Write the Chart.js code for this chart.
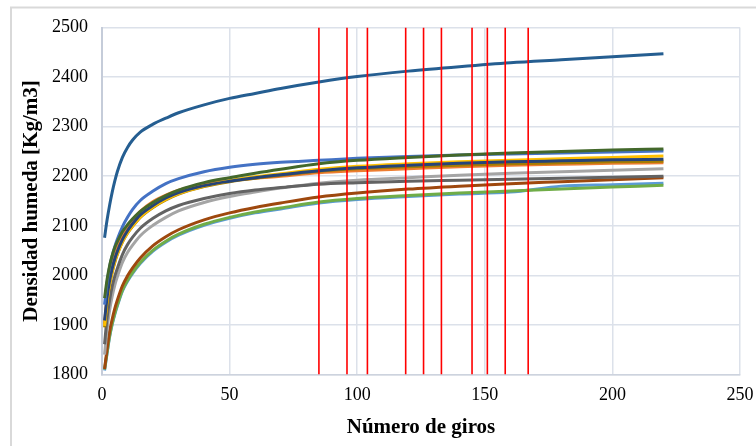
<!DOCTYPE html>
<html>
<head>
<meta charset="utf-8">
<script src="https://cdn.jsdelivr.net/npm/chart.js@4.4.1/dist/chart.umd.min.js"></script>
<style>
  html, body { margin: 0; padding: 0; background: #ffffff; }
  #caja { width: 756px; height: 446px; position: relative; }
</style>
</head>
<body>
<div id="caja"><canvas id="grafico"></canvas></div>
<script>
// Número de giros del compactador (eje x común a todas las curvas)
const giros = [1, 2, 3, 4, 5, 6, 8, 10, 12, 15, 20, 25, 30, 40, 50, 60, 70, 85, 100, 120, 140, 160, 180, 200, 220];

// Densidad húmeda [Kg/m3] de cada probeta
const azulOscuro  = [2076, 2112, 2142, 2168, 2190, 2209, 2238, 2258, 2273, 2289, 2305, 2317, 2328, 2344, 2357, 2367, 2377, 2390, 2401, 2412, 2421, 2429, 2435, 2441, 2447];
const verdeOscuro = [1954, 1992, 2020, 2040, 2056, 2068, 2088, 2102, 2114, 2129, 2147, 2161, 2172, 2187, 2197, 2206, 2214, 2225, 2232, 2238, 2243, 2247, 2250, 2253, 2255];
const azulMedio   = [1941, 1985, 2018, 2040, 2058, 2073, 2098, 2117, 2133, 2151, 2170, 2185, 2195, 2209, 2218, 2224, 2228, 2232, 2236, 2240, 2243, 2245, 2247, 2249, 2251];
const amarillo    = [1898, 1948, 1983, 2008, 2028, 2043, 2068, 2086, 2100, 2118, 2138, 2153, 2165, 2180, 2191, 2199, 2205, 2214, 2220, 2225, 2229, 2232, 2235, 2238, 2241];
const azulMarino  = [1909, 1956, 1990, 2014, 2033, 2048, 2072, 2090, 2104, 2122, 2141, 2156, 2167, 2181, 2190, 2197, 2203, 2211, 2217, 2222, 2226, 2229, 2231, 2233, 2234];
const mostaza     = [1895, 1946, 1981, 2006, 2026, 2042, 2067, 2085, 2099, 2117, 2137, 2152, 2164, 2179, 2189, 2196, 2202, 2210, 2215, 2219, 2222, 2225, 2227, 2229, 2230];
const naranja     = [1902, 1958, 1995, 2020, 2040, 2055, 2080, 2097, 2111, 2129, 2149, 2162, 2172, 2184, 2191, 2196, 2200, 2207, 2211, 2215, 2219, 2222, 2224, 2226, 2227];
const grisClaro   = [1840, 1892, 1930, 1958, 1980, 1997, 2026, 2046, 2061, 2080, 2101, 2117, 2130, 2147, 2159, 2168, 2176, 2186, 2192, 2197, 2202, 2206, 2209, 2212, 2215];
const grisOscuro  = [1861, 1915, 1951, 1978, 1998, 2014, 2042, 2062, 2077, 2095, 2115, 2130, 2141, 2155, 2165, 2172, 2177, 2184, 2187, 2190, 2192, 2194, 2196, 2198, 2200];
const marron      = [1811, 1852, 1887, 1912, 1933, 1950, 1979, 1999, 2015, 2035, 2060, 2078, 2092, 2112, 2126, 2137, 2146, 2158, 2166, 2174, 2180, 2185, 2189, 2193, 2197];
const verde       = [1810, 1845, 1878, 1903, 1923, 1940, 1970, 1990, 2006, 2026, 2051, 2069, 2083, 2103, 2117, 2128, 2136, 2148, 2155, 2161, 2166, 2170, 2174, 2178, 2182];
const azulClaro   = [1808, 1843, 1876, 1901, 1921, 1938, 1968, 1988, 2004, 2024, 2049, 2067, 2081, 2101, 2115, 2126, 2134, 2146, 2153, 2159, 2164, 2168, 2180, 2183, 2186];

// Líneas verticales rojas (número de giros)
const lineasRojas = [85, 96, 104, 119, 126, 133, 145, 151, 158, 167];

// Escalas
const ejeX = { min: 0, max: 250, paso: 50 };
const ejeY = { min: 1800, max: 2500, paso: 100 };

// Orden de dibujo: la primera serie queda encima
const series = [
  { nombre: 'P1',  datos: azulOscuro,  color: '#255E91' },
  { nombre: 'P2',  datos: verdeOscuro, color: '#43682B' },
  { nombre: 'P3',  datos: azulMedio,   color: '#4472C4' },
  { nombre: 'P4',  datos: azulMarino,  color: '#264478' },
  { nombre: 'P5',  datos: amarillo,    color: '#FFC000' },
  { nombre: 'P6',  datos: mostaza,     color: '#A67C00' },
  { nombre: 'P7',  datos: naranja,     color: '#ED7D31' },
  { nombre: 'P8',  datos: grisOscuro,  color: '#636363' },
  { nombre: 'P9',  datos: grisClaro,   color: '#A5A5A5' },
  { nombre: 'P10', datos: marron,      color: '#9E480E' },
  { nombre: 'P11', datos: verde,       color: '#70AD47' },
  { nombre: 'P12', datos: azulClaro,   color: '#5B9BD5' }
];

const datasets = [];

lineasRojas.forEach(function(g) {
  datasets.push({
    label: 'N=' + g,
    data: [{ x: g, y: ejeY.min }, { x: g, y: ejeY.max }],
    borderColor: '#FF0000',
    borderWidth: 1.6,
    pointRadius: 0,
    fill: false
  });
});

series.forEach(function(s) {
  datasets.push({
    label: s.nombre,
    data: giros.map((g, i) => ({ x: g, y: s.datos[i] })),
    borderColor: s.color,
    borderWidth: 3,
    pointRadius: 0,
    fill: false,
    cubicInterpolationMode: 'monotone'
  });
});

// Marco gris del área del gráfico
const marco = {
  id: 'marco',
  beforeDraw(chart) {
    const ctx = chart.ctx;
    ctx.save();
    ctx.strokeStyle = '#D9D9D9';
    ctx.lineWidth = 2;
    ctx.strokeRect(11, 7.5, 820, 520);
    ctx.restore();
  }
};

const fuenteTicks = { family: '"Liberation Serif", "Times New Roman", serif', size: 18 };
const fuenteTitulo = { family: '"Liberation Serif", "Times New Roman", serif', size: 21, weight: 'bold' };

new Chart(document.getElementById('grafico'), {
  type: 'line',
  data: { datasets: datasets },
  plugins: [marco],
  options: {
    responsive: true,
    maintainAspectRatio: false,
    animation: false,
    layout: { padding: { top: 27.5, right: 16, bottom: 0, left: 0 } },
    plugins: {
      legend: { display: false },
      tooltip: { enabled: false }
    },
    scales: {
      x: {
        type: 'linear',
        min: ejeX.min,
        max: ejeX.max,
        afterFit(scale) {
          scale.height = 71.5;
          scale.paddingLeft = 0;
          scale.paddingRight = 0;
        },
        grid: { color: '#DCE1EA', lineWidth: 1.5, drawTicks: false },
        border: { color: '#CDD3DE', width: 1.5 },
        ticks: { stepSize: ejeX.paso, color: '#000', font: fuenteTicks, padding: 10, format: { useGrouping: false } },
        title: {
          display: true,
          text: 'Número de giros',
          color: '#000',
          font: fuenteTitulo,
          padding: { top: 0, bottom: 6 }
        }
      },
      y: {
        min: ejeY.min,
        max: ejeY.max,
        afterFit(scale) { scale.width = 102; },
        grid: { color: '#DCE1EA', lineWidth: 1.5, drawTicks: false },
        border: { color: '#C5CCD9', width: 2 },
        ticks: { stepSize: ejeY.paso, color: '#000', font: fuenteTicks, padding: 14, format: { useGrouping: false } },
        title: {
          display: true,
          text: 'Densidad humeda [Kg/m3]',
          color: '#000',
          font: fuenteTitulo,
          padding: { top: 19, bottom: 0 }
        }
      }
    }
  }
});
</script>
</body>
</html>
